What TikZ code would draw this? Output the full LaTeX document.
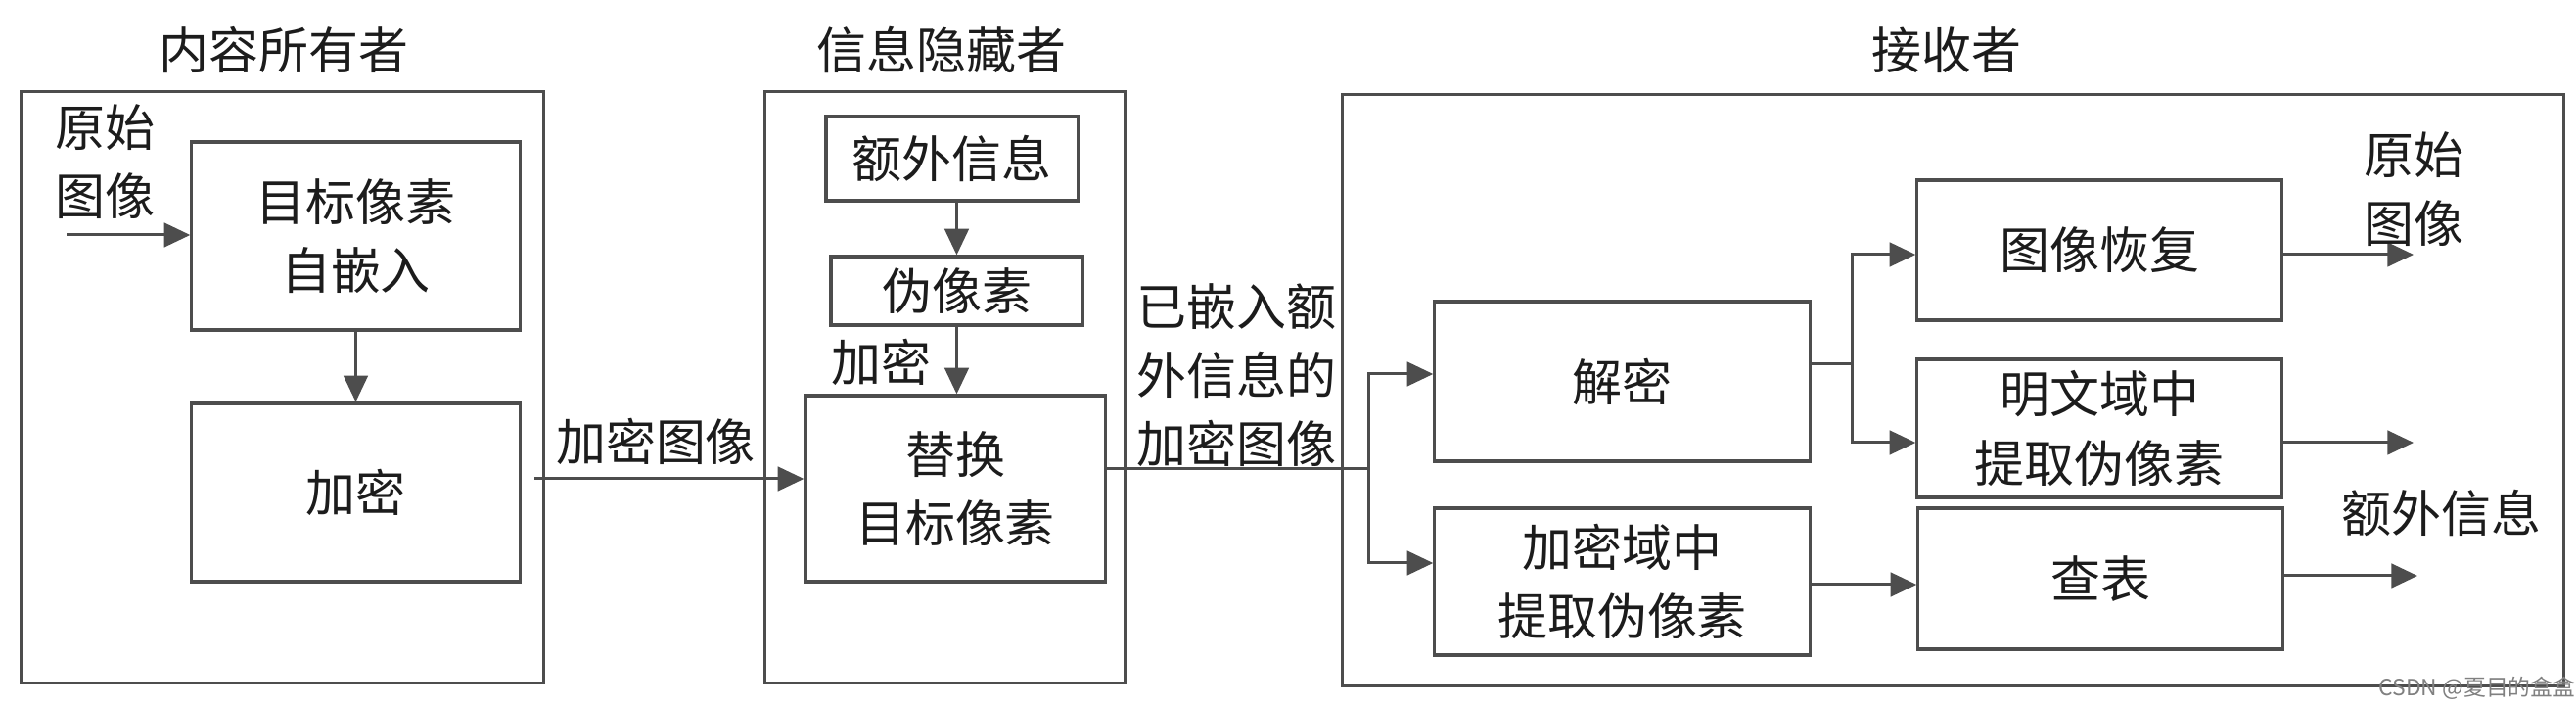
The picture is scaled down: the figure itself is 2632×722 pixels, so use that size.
\documentclass[tikz,border=0pt]{standalone}
\usepackage{fontspec}
\setmainfont{Noto Sans CJK SC}
\usepackage{xcolor}
\usepackage{tikz}
\usetikzlibrary{arrows.meta,positioning}
\definecolor{edge}{HTML}{4D4D4D}
\definecolor{ink}{HTML}{1C1C1C}

\begin{document}
\begin{tikzpicture}[x=0.01cm,y=-0.01cm,
  font=\fontsize{14.5pt}{20pt}\selectfont,text=ink,
  frame/.style={draw=edge,line width=0.9pt,inner sep=0pt},
  box/.style={draw=edge,line width=0.9pt,align=center,inner sep=0pt},
  lbl/.style={align=center,inner sep=0pt},
  line/.style={draw=edge,line width=0.85pt},
  arr/.style={line,-{Triangle[length=7.6pt,width=7pt]}}]
  \useasboundingbox (0,0) rectangle (2632,722);

  % content owner
  \node[frame,minimum width=5.33cm,minimum height=6.03cm] (owner) at (288.5,395.5) {};
  \node[lbl] (ownertitle) at (290,51) {内容所有者};
  \node[box,minimum width=3.35cm,minimum height=1.92cm] (selfemb) at (363.5,241) {目标像素\\自嵌入};
  \node[box,minimum width=3.35cm,minimum height=1.82cm] (enc) at (363.5,503) {加密};
  \node[lbl] (origin) at (107,165) {原始\\图像};
  \coordinate (in) at (68,240);
  \draw[arr] (in) -- (selfemb.west |- in);
  \draw[arr] (selfemb) -- (enc);

  % information hider
  \node[frame,minimum width=3.67cm,minimum height=6.03cm] (hider) at (965.5,395.5) {};
  \node[lbl] (hidertitle) at (962,51) {信息隐藏者};
  \node[box,minimum width=2.57cm,minimum height=0.86cm] (extra) at (972.5,162) {额外信息};
  \node[box,minimum width=2.57cm,minimum height=0.70cm] (pseudo) at (977.5,297) {伪像素};
  \node[box,minimum width=3.06cm,minimum height=1.90cm] (swap) at (976,499) {替换\\目标像素};
  \node[lbl] (enclbl) at (900,370) {加密};
  \draw[arr] (pseudo.north |- extra.south) -- (pseudo.north);
  \draw[arr] (pseudo) -- (pseudo |- swap.north);
  \coordinate (encout) at (546,489);
  \draw[arr] (encout) -- (swap.west |- encout);
  \node[lbl] (encimg) at (670,451) {加密图像};

  % receiver
  \node[frame,minimum width=12.47cm,minimum height=6.03cm] (recv) at (1995.5,398.5) {};
  \node[lbl] (recvtitle) at (1989,51) {接收者};
  \node[box,minimum width=3.83cm,minimum height=1.63cm] (decrypt) at (1657.5,389.5) {解密};
  \node[box,minimum width=3.83cm,minimum height=1.50cm] (encext) at (1657.5,594) {加密域中\\提取伪像素};
  \node[box,minimum width=3.72cm,minimum height=1.43cm] (recover) at (2145,255.5) {图像恢复};
  \node[box,minimum width=3.72cm,minimum height=1.41cm] (plainext) at (2145,437.5) {明文域中\\提取伪像素};
  \node[box,minimum width=3.72cm,minimum height=1.44cm] (lookup) at (2146,591) {查表};
  \node[lbl] (marked) at (1263,383) {已嵌入额\\外信息的\\加密图像};

  \coordinate (split) at (1398,479);
  \draw[line] (swap.east |- split) -- (split);
  \draw[arr] (split) |- (decrypt.west |- 0,382);
  \draw[arr] (split) |- (encext.west |- 0,575);
  \coordinate (branch) at (1892,372);
  \draw[line] (decrypt.east |- branch) -- (branch);
  \draw[arr] (branch) |- (recover.west |- 0,260);
  \draw[arr] (branch) |- (plainext.west |- 0,452);
  \draw[arr] (encext.east |- 0,597) -- (lookup.west |- 0,597);

  \coordinate (out1) at (2466,260);
  \coordinate (out2) at (2466,452);
  \coordinate (out3) at (2470,588);
  \draw[arr] (recover.east |- out1) -- (out1);
  \draw[arr] (plainext.east |- out2) -- (out2);
  \draw[arr] (lookup.east |- out3) -- (out3);
  \node[lbl] (origout) at (2466,193) {原始\\图像};
  \node[lbl] (extraout) at (2494,524) {额外信息};

  \node[lbl,font=\fontsize{6.5pt}{7pt}\selectfont,text=gray] (mark) at (2531,703) {CSDN @夏目的盒盒};
\end{tikzpicture}
\end{document}
